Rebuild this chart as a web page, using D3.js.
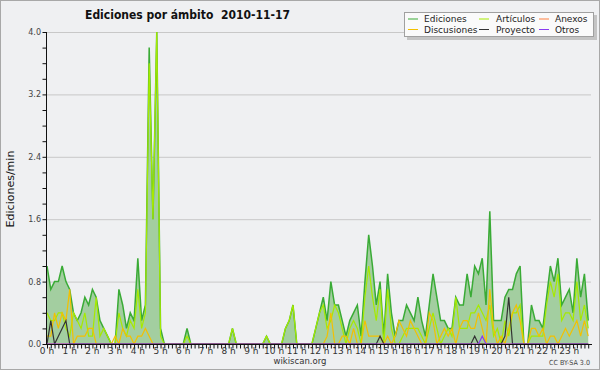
<!DOCTYPE html>
<html><head><meta charset="utf-8">
<script src="https://cdn.jsdelivr.net/npm/d3@7/dist/d3.min.js"></script>
<style>body{margin:0;background:#fff}svg{display:block}</style>
</head><body><svg id="c" width="600" height="370"></svg>
<script>
// ---- data ----
const hourLabels = d3.range(24).map(h => h + " h");
const yTickValues = [0, 0.8, 1.6, 2.4, 3.2, 4.0];
const seriesNames = ["Ediciones", "Artículos", "Anexos", "Discusiones", "Proyecto", "Otros"];
const seriesColors = ["#3aab36", "#a6ea00", "#ff8040", "#f3c000", "#333333", "#8a3cf0"];
// values every 10 minutes, edits per minute
const ediciones = [
1.0,0.7,0.8,0.8,1.0,0.8, 0.7,0.4,0.3,0.4,0.6,0.5,
0.7,0.6,0.3,0.2,0.1,0, 0,0.7,0.5,0.2,0.4,0.3,
1.1,0.3,0.5,3.8,1.6,4.0, 0.2,0,0,0,0,0,
0,0.2,0,0,0,0, 0,0,0,0,0,0,
0,0.2,0,0,0,0, 0,0,0,0,0.1,0,
0,0,0,0.2,0.3,0.5, 0,0,0,0,0,0.2,
0.4,0.6,0.3,0.8,0.5,0.5, 0.3,0.1,0.3,0.4,0.5,0.1,
0.8,1.4,1.0,0.5,0.8,0.1, 0.9,0.4,0.1,0.3,0.3,0.5,
0.4,0.3,0.6,0.3,0.1,0.5, 0.9,0.6,0.3,0.3,0.2,0.2,
0.6,0.5,0.5,0.9,0.6,1.0, 0.9,1.1,0.5,1.7,0.3,0.3,
0.3,0.6,0.7,0.7,0.9,1.0, 0,0,0.5,0.3,0.3,0.2,
0.6,1.0,0.8,1.1,0.5,0.6, 0.7,0.4,1.1,0.6,0.9,0.3];
const articulos = [
0.4,0.3,0.3,0.4,0.4,0.2, 0.1,0.4,0.3,0.2,0.4,0.1,
0.1,0.6,0.1,0.2,0.1,0, 0,0.4,0.2,0.1,0.3,0.2,
0.7,0.2,0.4,3.6,1.6,4.0, 0.1,0,0,0,0,0,
0,0.1,0,0,0,0, 0,0,0,0,0,0,
0,0.2,0,0,0,0, 0,0,0,0,0.1,0,
0,0,0,0.2,0.3,0.5, 0,0,0,0,0,0.2,
0.4,0.5,0.2,0.3,0.5,0.4, 0.2,0,0.2,0.3,0.2,0,
0.6,1.0,0.6,0.3,0.7,0, 0.7,0.2,0,0,0.1,0.2,
0.2,0.2,0.2,0.1,0,0.2, 0.4,0.2,0,0.1,0.2,0.1,
0.6,0.2,0.2,0.2,0.4,0.4, 0.5,0.4,0.3,0.5,0.1,0.2,
0,0.3,0.1,0.4,0.4,0.5, 0,0,0.1,0.1,0.1,0.1,
0.5,0.8,0.6,0.9,0.3,0.4, 0.4,0.3,0.8,0.3,0.5,0.2];
const anexos = new Array(144).fill(0);
const discusiones = [
0.1,0.1,0.4,0.2,0.4,0.3, 0.7,0,0.1,0.1,0.1,0.2,
0.2,0,0,0,0,0, 0.1,0,0.2,0.1,0.1,0,
0.1,0.1,0.2,0.1,0,0, 0,0,0,0,0,0,
0,0,0,0,0,0, 0,0,0,0,0,0,
0,0,0,0,0,0, 0,0,0,0,0,0,
0,0,0,0,0,0, 0,0,0,0,0,0,
0,0,0.1,0.4,0,0, 0.1,0.1,0,0.2,0,0,
0.3,0.1,0.1,0.1,0.1,0, 0.1,0,0.1,0.3,0.2,0.1,
0.3,0.2,0.1,0,0,0.4, 0.3,0,0.1,0.2,0.1,0.2,
0,0.2,0.3,0.3,0.2,0.2, 0.4,0.2,0,0.7,0.2,0,
0.1,0,0.2,0.4,0.5,0.3, 0,0,0.2,0.2,0.1,0.2,
0,0.1,0.1,0,0.1,0.2, 0.1,0.2,0.3,0.1,0.3,0.1];
const proyecto = new Array(144).fill(0);
[[1,0.3],[3,0.1],[4,0.2],[5,0.3],[88,0.1],[113,0.1],[121,0.1],[122,0.6]].forEach(([i,v]) => proyecto[i] = v);
const otros = new Array(144).fill(0);
otros[115] = 0.1;
const allSeries = [ediciones, articulos, anexos, discusiones, proyecto, otros];

// ---- drawing ----
const svg = d3.select("#c");
const W = 600, H = 370;
svg.append("rect").attr("x",0.5).attr("y",0.5).attr("width",W-1).attr("height",H-1)
  .attr("fill","#eff0f2").attr("stroke","#a8a8a8");

const x = d3.scaleLinear().domain([0, 24]).range([47, 592]);
const y = d3.scaleLinear().domain([0, 4]).range([344, 32]);
const tOf = i => i / 6;

// grid
svg.append("g").selectAll("line").data(yTickValues.filter(v => v > 0)).join("line")
  .attr("x1", 47).attr("x2", 591).attr("y1", d => y(d) + 0.5).attr("y2", d => y(d) + 0.5)
  .attr("stroke", "#c8c8c8").attr("stroke-width", 1);

// area
const area = d3.area().x((d, i) => x(tOf(i))).y0(y(0)).y1(d => y(d));
svg.append("path").datum(ediciones).attr("d", area).attr("fill", "#a3cea0");

const line = d3.line().x((d, i) => x(tOf(i))).y(d => y(d));
const order = [0, 1, 2, 3, 4, 5];
order.forEach(k => {
  svg.append("path").datum(allSeries[k]).attr("d", line)
    .attr("fill", "none").attr("stroke", seriesColors[k])
    .attr("stroke-width", k === 0 ? 1.5 : 1.2).attr("stroke-linejoin", "miter");
});

// axes
const gx = svg.append("g").attr("transform", `translate(0,${y(0) + 0.5})`);
gx.call(d3.axisBottom(x).tickValues(d3.range(0, 144).map(tOf)).tickSize(4).tickFormat(""));
gx.select(".domain").attr("d", `M46,0H592`).attr("stroke", "#111");
gx.selectAll(".tick line").attr("stroke", "#111");
svg.append("g").selectAll("text").data(hourLabels).join("text")
  .attr("x", (d, i) => x(i)).attr("y", 354)
  .attr("text-anchor", "middle").attr("font-family", "DejaVu Sans").attr("font-size", 9)
  .attr("fill", "#333").text(d => d);

const gy = svg.append("g").attr("transform", `translate(46.5,0)`);
gy.call(d3.axisLeft(y).tickValues(d3.range(0, 21).map(k => k * 0.2)).tickSize(4).tickFormat(""));
gy.select(".domain").attr("d", `M0,${y(4)}V${y(0) + 1}`).attr("stroke", "#111");
gy.selectAll(".tick line").attr("stroke", "#111");
svg.append("g").selectAll("text").data(yTickValues).join("text")
  .attr("x", 41).attr("y", d => y(d) + 3)
  .attr("text-anchor", "end").attr("font-family", "DejaVu Sans").attr("font-size", 8)
  .attr("fill", "#444").text(d => d.toFixed(1));

// y title
svg.append("text").attr("transform", "translate(14,189) rotate(-90)")
  .attr("text-anchor", "middle").attr("font-family", "DejaVu Sans").attr("font-size", 11)
  .attr("fill", "#111").text("Ediciones/min");

// title
svg.append("text").attr("x", 85).attr("y", 19).style("white-space", "pre")
  .attr("font-family", "DejaVu Sans").attr("font-weight", "bold").attr("font-size", 12.5)
  .attr("textLength", 205).attr("lengthAdjust", "spacingAndGlyphs")
  .attr("fill", "#111").text("Ediciones por ámbito  2010-11-17");

// footer
svg.append("text").attr("x", 300).attr("y", 364).attr("text-anchor", "middle")
  .attr("font-family", "DejaVu Sans").attr("font-size", 8.5).attr("fill", "#333").text("wikiscan.org");
svg.append("text").attr("x", 590).attr("y", 365).attr("text-anchor", "end")
  .attr("font-family", "DejaVu Sans").attr("font-size", 7).attr("textLength", 41)
  .attr("lengthAdjust", "spacingAndGlyphs").attr("fill", "#444").text("CC BY-SA 3.0");

// legend
const lg = svg.append("g");
lg.append("rect").attr("x", 407).attr("y", 15).attr("width", 190).attr("height", 25).attr("fill", "#c4c4c4");
lg.append("rect").attr("x", 404.5).attr("y", 12.5).attr("width", 189).attr("height", 24)
  .attr("fill", "#fafafa").attr("stroke", "#a0a0a0");
const colSw = [408, 479, 539], colTx = [424, 496, 555], rowY = [18.5, 29];
seriesNames.forEach((name, j) => {
  const c = j % 3, r = Math.floor(j / 3);
  lg.append("line").attr("x1", colSw[c]).attr("x2", colSw[c] + 10)
    .attr("y1", rowY[r] + 0.5).attr("y2", rowY[r] + 0.5).attr("stroke", seriesColors[j]);
  lg.append("text").attr("x", colTx[c]).attr("y", rowY[r] + 3.5)
    .attr("font-family", "DejaVu Sans").attr("font-size", 9).attr("fill", "#222").text(name);
});
</script></body></html>
